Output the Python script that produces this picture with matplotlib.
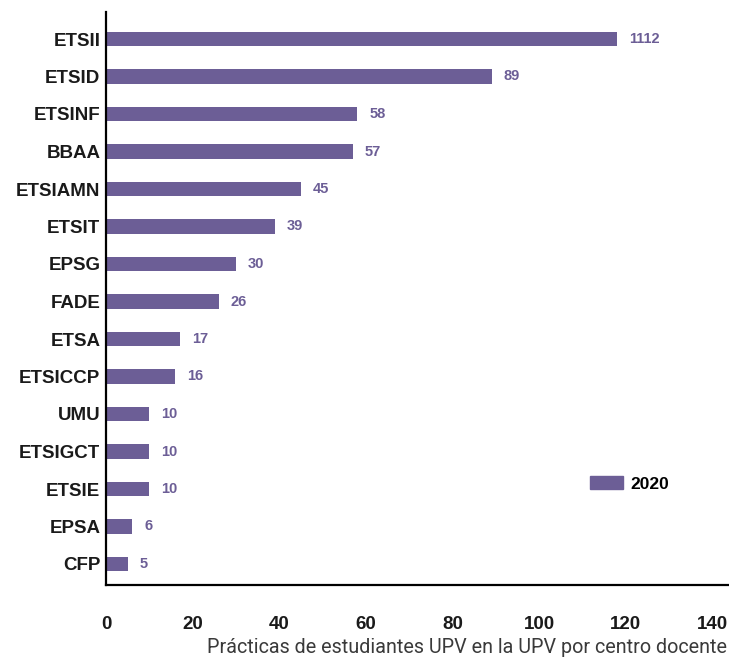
import matplotlib
matplotlib.use("Agg")
import matplotlib.pyplot as plt
from matplotlib.patches import Patch

# Datos: prácticas por centro docente (2020)
centros = ["ETSII", "ETSID", "ETSINF", "BBAA", "ETSIAMN", "ETSIT", "EPSG", "FADE",
           "ETSA", "ETSICCP", "UMU", "ETSIGCT", "ETSIE", "EPSA", "CFP"]
valores = [118, 89, 58, 57, 45, 39, 30, 26, 17, 16, 10, 10, 10, 6, 5]
etiquetas = ["1112", "89", "58", "57", "45", "39", "30", "26", "17", "16",
             "10", "10", "10", "6", "5"]
ticks_x = [0, 20, 40, 60, 80, 100, 120, 140]

morado = "#6c5e96"
plt.rcParams["font.family"] = ["Liberation Sans", "DejaVu Sans"]

fig = plt.figure(figsize=(7.29, 6.58), dpi=100)
# ejes colocados en pixeles de la imagen original
ax = fig.add_axes([106 / 729, 1 - 585 / 658, (729 - 106) / 729, (585 - 12) / 658])

pos = list(range(len(centros)))
ax.barh(pos, valores, height=0.375, color=morado, label="2020")

for p, v, t in zip(pos, valores, etiquetas):
    ax.text(v + 2.8, p, t, va="center", ha="left", fontsize=10.5,
            fontweight="bold", color=morado)

ax.set_yticks(pos)
ax.set_yticklabels(centros, fontsize=13.5, fontweight="bold", color="#1a1a1a")
ax.set_ylim(len(centros) - 1 + 0.56, -0.72)
ax.set_xlim(0, 143.8)
ax.set_xticks(ticks_x)
ax.set_xticklabels([str(t) for t in ticks_x], fontsize=13.5, fontweight="bold",
                   color="#1a1a1a")
ax.tick_params(axis="both", length=0)
ax.tick_params(axis="x", pad=22)
ax.tick_params(axis="y", pad=4)

for s in ["top", "right"]:
    ax.spines[s].set_visible(False)
ax.spines["left"].set_linewidth(1.6)
ax.spines["bottom"].set_linewidth(1.6)

fig.legend(handles=[Patch(color=morado, label="2020")], loc="center left",
           bbox_to_anchor=(574 / 729, 1 - 484 / 658), frameon=False,
           prop={"weight": "bold", "size": 12.5}, handlelength=1.9,
           handleheight=0.75, handletextpad=0.45)

fig.text(727 / 729, 1 - 653 / 658, "Prácticas de estudiantes UPV en la UPV por centro docente",
         ha="right", va="baseline", fontsize=14.2, color="#3a3a3a",
         family=["Roboto", "DejaVu Sans"], fontweight="normal")

fig.savefig("out.png", dpi=100)
